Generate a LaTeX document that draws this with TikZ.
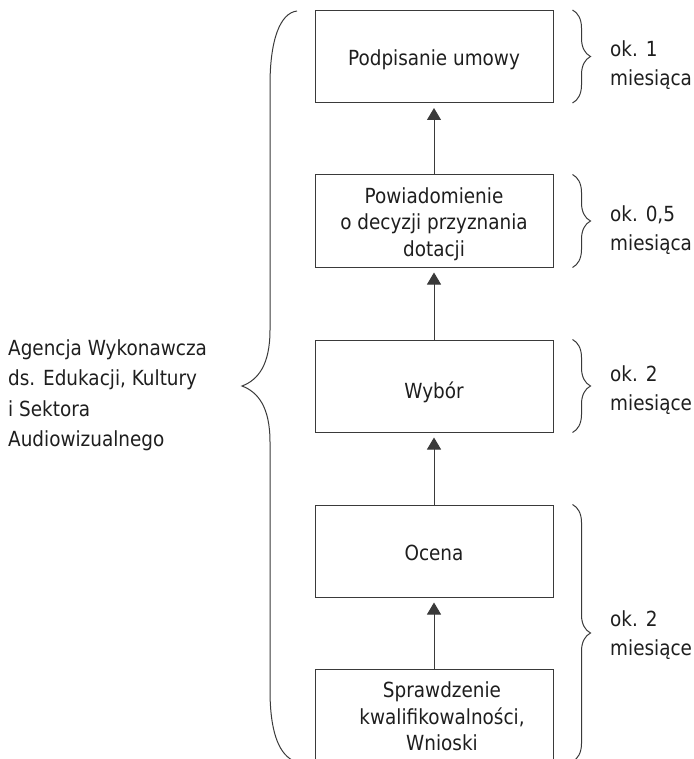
\documentclass[tikz,border=0pt]{standalone}
\usepackage{fontspec}
\setmainfont[FakeStretch=0.885]{DejaVu Sans}
\usetikzlibrary{arrows.meta,decorations.pathreplacing}
\definecolor{ink}{HTML}{1E1E1E}
\definecolor{rulegray}{HTML}{3A3A3A}
\begin{document}
\begin{tikzpicture}[x=1pt,y=-1pt,
  stage/.style={draw=rulegray, line width=1pt, minimum width=238pt,
    minimum height=92pt, inner sep=0pt},
  stagetext/.style={inner sep=0pt, align=center, text=ink,
    font=\fontsize{20.8pt}{26.5pt}\selectfont},
  flow/.style={draw=rulegray, line width=1pt,
    -{Triangle[width=14pt,length=12pt]}, shorten >=5pt},
  curly/.style={draw=rulegray, line width=1pt},
  sidebrace/.style={curly, decorate, decoration={brace, amplitude=18pt}},
  side/.style={anchor=west, inner sep=0pt, align=left, text=ink,
    font=\fontsize{20.8pt}{28.5pt}\selectfont},
  agency/.style={anchor=west, inner sep=0pt, align=left, text=ink,
    font=\fontsize{20.8pt}{30.5pt}\selectfont}]
\useasboundingbox (0,0) rectangle (693,759);

% process stages, top to bottom
\node[stage, label={[stagetext, yshift=-3pt]center:Podpisanie umowy}] (umowa) at (434,56.5) {};
\node[stage, label={[stagetext, yshift=-3pt]center:Powiadomienie\\o decyzji przyznania\\dotacji}] (decyzja) at (434,221) {};
\node[stage, label={[stagetext, yshift=-6pt]center:Wybór}] (wybor) at (434,386) {};
\node[stage, label={[stagetext, yshift=-2pt]center:Ocena}] (ocena) at (434,551) {};
\node[stage, label={[stagetext, xshift=8pt, yshift=-1.5pt]center:Sprawdzenie\\kwalifikowalności,\\Wnioski}] (wnioski) at (434,715) {};

% flow arrows
\draw[flow] (wnioski) -- (ocena);
\draw[flow] (ocena) -- (wybor);
\draw[flow] (wybor) -- (decyzja);
\draw[flow] (decyzja) -- (umowa);

% duration braces on the right
\draw[sidebrace] ([xshift=19pt]umowa.north east) -- ([xshift=19pt]umowa.south east);
\draw[sidebrace] ([xshift=19pt]decyzja.north east) -- ([xshift=19pt]decyzja.south east);
\draw[sidebrace] ([xshift=19pt]wybor.north east) -- ([xshift=19pt]wybor.south east);
\draw[sidebrace] ([xshift=19pt]ocena.north east) -- ([xshift=19pt]wnioski.south east);

\node[side] (t1) at (610,65) {ok. 1\\miesiąca};
\node[side] (t2) at (610,230) {ok. 0,5\\miesiąca};
\node[side] (t3) at (610,390) {ok. 2\\miesiące};
\node[side] (t4) at (610,635) {ok. 2\\miesiące};

% large brace grouping all stages
\draw[curly] (297,11) .. controls (280,13) and (270,40) .. (270,85)
  -- (270,330) .. controls (270,365) and (258,380) .. (242,386)
  .. controls (258,392) and (270,407) .. (270,442)
  -- (270,690) .. controls (270,730) and (278,752) .. (292,760);

\node[agency] (agencja) at (8,395.5) {Agencja Wykonawcza\\ds. Edukacji, Kultury\\i Sektora\\Audiowizualnego};
\end{tikzpicture}
\end{document}
